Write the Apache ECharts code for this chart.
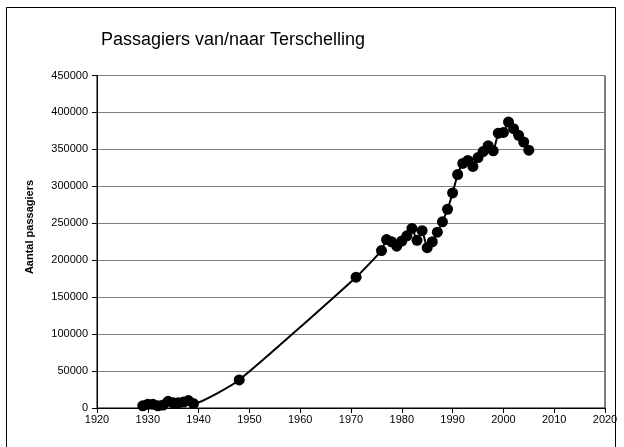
<!DOCTYPE html>
<html>
<head>
<meta charset="utf-8">
<script src="https://cdn.jsdelivr.net/npm/echarts@6/dist/echarts.min.js"></script>
<style>
html,body{margin:0;padding:0;background:#fff;}
#chart{width:624px;height:447px;}
</style>
</head>
<body>
<div id="chart"></div>
<script>
const years = [1929,1930,1931,1932,1933,1934,1935,1936,1937,1938,1939,
  1948,1971,1976,1977,1978,1979,1980,1981,1982,1983,1984,1985,1986,1987,1988,1989,
  1990,1991,1992,1993,1994,1995,1996,1997,1998,1999,2000,2001,2002,2003,2004,2005];
const passengers = [3000,5000,5000,3000,4000,9000,7000,7000,8000,10000,6000,
  38000,177000,213000,228000,225000,219000,226000,233000,243000,227000,240000,217000,225000,238000,252000,269000,
  291000,316000,331000,335000,327000,339000,347000,355000,348000,372000,373000,387000,378000,369000,360000,349000];
const titleText = 'Passagiers van/naar Terschelling';
const yAxisTitle = 'Aantal passagiers';

const chart = echarts.init(document.getElementById('chart'));
const fontFamily = 'Liberation Sans, Arial, sans-serif';
chart.setOption({
  animation: false,
  backgroundColor: '#fff',
  title: {
    text: titleText,
    left: 228, top: 26, textAlign: 'center',
    textStyle: {fontFamily, fontSize: 18, fontWeight: 'normal', color: '#000'}
  },
  graphic: [{
    type: 'rect', shape: {x: 6.5, y: 7.5, width: 609, height: 460},
    style: {fill: 'none', stroke: '#000', lineWidth: 1}, silent: true
  }, {
    type: 'text', x: 30, y: 227, rotation: Math.PI / 2,
    style: {text: yAxisTitle, fontFamily, fontSize: 11, fontWeight: 'bold', fill: '#000',
      align: 'center', verticalAlign: 'middle'}, silent: true
  }],
  grid: {left: 97, right: 19, top: 75.5, bottom: 39, show: true, borderColor: '#000', borderWidth: 1},
  xAxis: {
    type: 'value', min: 1920, max: 2020, interval: 10,
    axisLine: {show: true, lineStyle: {color: '#000', width: 1}},
    axisTick: {show: true, length: 5, inside: false, lineStyle: {color: '#000'}},
    axisLabel: {fontFamily, fontSize: 11, color: '#000', margin: 6, formatter: v => String(v)},
    splitLine: {show: false}
  },
  yAxis: {
    type: 'value', min: 0, max: 450000, interval: 50000,
    axisLine: {show: true, lineStyle: {color: '#000', width: 1}},
    axisTick: {show: true, length: 5, lineStyle: {color: '#000'}},
    axisLabel: {fontFamily, fontSize: 11, color: '#000', margin: 9, formatter: v => String(v)},
    splitLine: {show: true, lineStyle: {color: '#808080', width: 1}}
  },
  series: [{
    type: 'line',
    data: years.map((y, i) => [y, passengers[i]]),
    smooth: 0.15,
    symbol: 'circle', symbolSize: 11,
    itemStyle: {color: '#000'},
    lineStyle: {color: '#000', width: 2}
  }]
});
</script>
</body>
</html>
